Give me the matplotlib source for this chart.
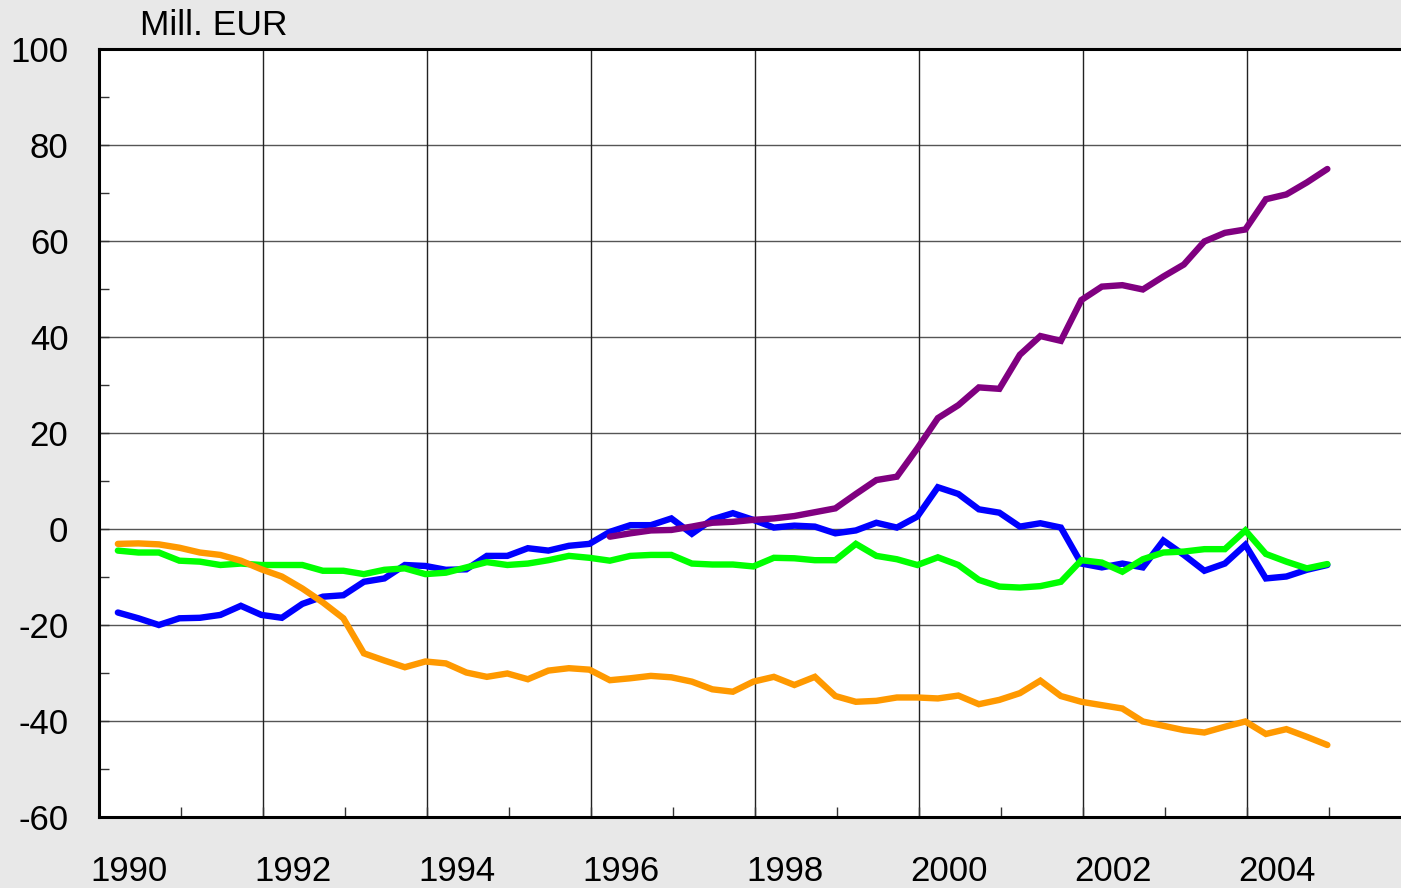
import matplotlib
matplotlib.use("Agg")
import matplotlib.pyplot as plt
import numpy as np
from matplotlib.ticker import MultipleLocator, FixedLocator

plt.rcParams['font.family'] = ['Liberation Sans', 'DejaVu Sans']

# Quarterly data 1990Q1 - 2004Q4
years = list(range(1990, 2005))
quarters = [(y, q) for y in years for q in (1, 2, 3, 4)]

blue = [-17.4, -18.6, -20.0, -18.6, -18.5, -17.9, -16.0, -17.9, -18.5, -15.6,
        -14.1, -13.8, -11.0, -10.3, -7.5, -7.7, -8.5, -8.4, -5.6, -5.6,
        -4.0, -4.5, -3.5, -3.1, -0.6, 0.8, 0.8, 2.2, -1.0, 2.0,
        3.3, 1.9, 0.3, 0.7, 0.5, -0.9, -0.3, 1.3, 0.3, 2.6,
        8.7, 7.3, 4.1, 3.4, 0.5, 1.2, 0.3, -7.2, -8.0, -7.2,
        -8.0, -2.4, -5.4, -8.7, -7.2, -3.3, -10.3, -9.9, -8.5, -7.5]

green = [-4.5, -4.9, -4.9, -6.6, -6.8, -7.5, -7.2, -7.5, -7.5, -7.5,
         -8.7, -8.7, -9.4, -8.5, -8.2, -9.4, -9.1, -8.0, -6.9, -7.5,
         -7.2, -6.5, -5.6, -6.0, -6.6, -5.6, -5.4, -5.4, -7.2, -7.4,
         -7.4, -7.8, -6.0, -6.1, -6.5, -6.5, -3.1, -5.6, -6.3, -7.5,
         -5.9, -7.5, -10.6, -12.0, -12.2, -11.9, -11.0, -6.5, -7.0, -8.9,
         -6.3, -4.9, -4.7, -4.2, -4.2, -0.3, -5.2, -6.8, -8.2, -7.3]

orange = [-3.1, -3.0, -3.2, -3.9, -4.9, -5.4, -6.6, -8.4, -9.9, -12.4,
          -15.3, -18.6, -25.9, -27.4, -28.8, -27.6, -28.0, -29.9, -30.8, -30.1,
          -31.3, -29.5, -29.0, -29.3, -31.5, -31.1, -30.6, -30.9, -31.8, -33.4,
          -33.9, -31.8, -30.8, -32.5, -30.8, -34.8, -36.0, -35.8, -35.1, -35.1,
          -35.3, -34.7, -36.5, -35.6, -34.2, -31.6, -34.8, -36.0, -36.7, -37.4,
          -40.1, -41.0, -41.9, -42.4, -41.2, -40.1, -42.7, -41.7, -43.3, -45.0]

# purple series starts 1996Q1
purple_start = 24
purple = [-1.6, -0.9, -0.3, -0.2, 0.5, 1.3, 1.5, 1.9, 2.2, 2.7,
          3.5, 4.3, 7.3, 10.2, 10.9, 16.8, 23.1, 25.8, 29.5, 29.2,
          36.3, 40.2, 39.2, 47.7, 50.5, 50.8, 49.9, 52.6, 55.1, 59.9,
          61.7, 62.4, 68.7, 69.7, 72.2, 75.0]

y_ticks = list(range(-60, 101, 20))
x_label_years = list(range(1990, 2005, 2))

# decimal time for each quarter (plotted near quarter end)
t = np.array([y + q / 4 - 0.02 for (y, q) in quarters])

W, H = 1401, 888
fig = plt.figure(figsize=(W / 100, H / 100), dpi=100)
fig.patch.set_facecolor('#e8e8e8')

left, right_px = 99, 99 + 16 * 82
ax = fig.add_axes([left / W, (H - 817) / H, (right_px - left) / W, 768 / H])
ax.set_facecolor('white')
ax.set_xlim(1990, 2006)
ax.set_ylim(-60, 100)

lw = 4.6
ax.plot(t, blue, color='#0000ff', lw=lw, solid_capstyle='round', solid_joinstyle='miter', zorder=3)
ax.plot(t, green, color='#00ff00', lw=lw, solid_capstyle='round', solid_joinstyle='miter', zorder=4)
ax.plot(t, orange, color='#ff9900', lw=lw, solid_capstyle='round', solid_joinstyle='miter', zorder=5)
ax.plot(t[purple_start:], purple, color='#800080', lw=lw, solid_capstyle='round', solid_joinstyle='miter', zorder=6)

# gridlines
for yv in y_ticks[1:-1]:
    ax.axhline(yv, color='#555555', lw=1.0, zorder=1)
for xv in x_label_years[1:]:
    ax.axvline(xv, color='#222222', lw=1.0, zorder=1)

# y ticks
ax.yaxis.set_major_locator(FixedLocator(y_ticks))
ax.yaxis.set_minor_locator(MultipleLocator(10))
ax.set_yticklabels([str(v) for v in y_ticks])
ax.tick_params(axis='y', which='both', direction='in', length=7, width=1, color='#333333',
               labelsize=25, pad=22)

# x ticks: year marks at every year, labels offset to the right
ax.xaxis.set_minor_locator(MultipleLocator(1))
ax.xaxis.set_major_locator(FixedLocator([y + 0.37 for y in x_label_years]))
ax.set_xticklabels([str(y) for y in x_label_years])
ax.tick_params(axis='x', which='major', length=0, labelsize=25, pad=27)
ax.tick_params(axis='x', which='minor', direction='in', length=7, width=1, color='#333333')

for side in ('left', 'bottom', 'top'):
    ax.spines[side].set_linewidth(2.2)
    ax.spines[side].set_color('black')
ax.spines['right'].set_visible(False)

fig.text(140 / W, 1 - 35 / H, 'Mill. EUR', fontsize=25.5, ha='left', va='baseline')

fig.savefig('out.png', dpi=100, facecolor=fig.get_facecolor())
